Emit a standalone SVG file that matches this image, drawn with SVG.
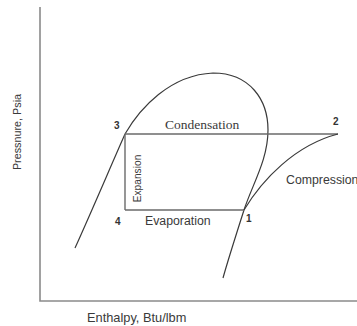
<svg xmlns="http://www.w3.org/2000/svg" width="357" height="326" viewBox="0 0 357 326">
<style>
.axis{stroke:#8a8a8a;stroke-width:1.6;fill:none}
.ln{stroke:#6a6a6a;stroke-width:1.4;fill:none}
.cv{stroke:#3a3a3a;stroke-width:1.2;fill:none}
.s{font-family:"Liberation Sans",Arial,sans-serif;fill:#3a3a3a}
.serif{font-family:"Liberation Serif","Times New Roman",serif;fill:#3a3a3a}
.n{font-family:"Liberation Sans",Arial,sans-serif;font-weight:bold;font-size:10px;fill:#333}
</style>
<rect width="357" height="326" fill="#fff"/>
<g id="axes">
<path class="axis" d="M40,7 V301 H357"/>
<text class="s" font-size="10.8" transform="translate(21,132) rotate(-90)" text-anchor="middle">Pressnure, Psia</text>
<text class="s" font-size="12.8" x="87" y="322">Enthalpy, Btu/lbm</text>
</g>
<g id="dome">
<path class="cv" d="M75,248 C90,215 110,168 125,134 C140,108 170,75 213,73 C250,73 268,100 268,130 C268,160 252,185 244,210 C236,235 228,260 223,278"/>
</g>
<g id="connectors">
<path id="condensation" class="ln" d="M125,134 H338"/>
<path id="expansion" class="ln" d="M125,134 V210"/>
<path id="evaporation" class="ln" d="M125,210 H244"/>
<path id="compression" class="cv" d="M244,210 C262,180 295,145 338,134"/>
</g>
<g id="labels">
<text class="serif" font-size="13.5" x="165" y="129">Condensation</text>
<text class="s" font-size="10.2" transform="translate(141,178.5) rotate(-90)" text-anchor="middle">Expansion</text>
<text class="s" font-size="12.3" x="145" y="225">Evaporation</text>
<text class="s" font-size="12.3" x="286" y="184">Compression</text>
</g>
<g id="node3"><text class="n" x="114" y="129">3</text></g>
<g id="node2"><text class="n" x="333" y="125">2</text></g>
<g id="node4"><text class="n" x="115" y="225">4</text></g>
<g id="node1"><text class="n" x="246" y="222">1</text></g>
</svg>
